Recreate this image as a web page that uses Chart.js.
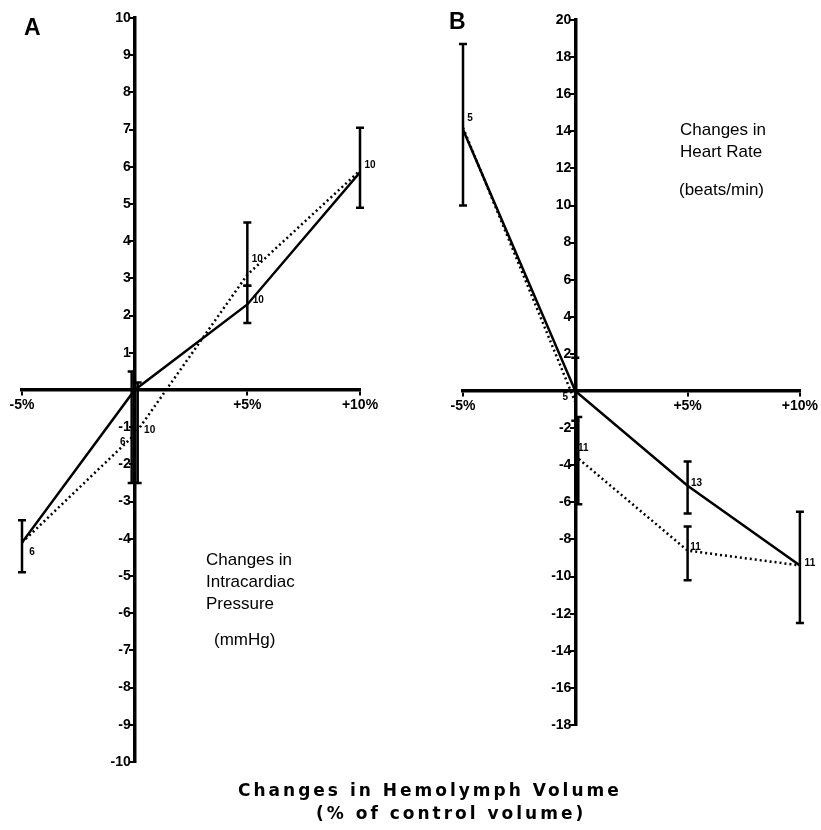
<!DOCTYPE html>
<html><head><meta charset="utf-8">
<script src="https://cdn.jsdelivr.net/npm/chart.js@4/dist/chart.umd.min.js"></script>
<style>
html,body{margin:0;padding:0;background:#fff;}
#wrap{position:relative;width:821px;height:830px;overflow:hidden;font-family:"Liberation Sans",Arial,sans-serif;color:#000;}
.cv{position:absolute;top:0;}
.t{position:absolute;white-space:nowrap;}
.lab{font-size:17px;line-height:22px;}
.ttl{font-family:"DejaVu Sans",sans-serif;font-weight:bold;font-size:17px;letter-spacing:3px;}
</style></head><body>
<div id="wrap">
<canvas id="ca" class="cv" style="left:0" width="410" height="830"></canvas>
<canvas id="cb" class="cv" style="left:410px" width="411" height="830"></canvas>
<div class="t" style="left:24px;top:14px;font-size:23px;font-weight:bold">A</div>
<div class="t" style="left:449px;top:8px;font-size:23px;font-weight:bold">B</div>
<div class="t lab" style="left:206px;top:549px">Changes in<br>Intracardiac<br>Pressure</div>
<div class="t lab" style="left:214px;top:629px">(mmHg)</div>
<div class="t lab" style="left:680px;top:119px">Changes in<br>Heart Rate</div>
<div class="t lab" style="left:679px;top:179px">(beats/min)</div>
<div class="t ttl" style="top:780px;left:238px">Changes in Hemolymph Volume</div>
<div class="t ttl" style="top:803px;left:316px">(% of control volume)</div>
</div>
<script>
// ---- data ----
const volX = [-5, 0, 5, 10];
const volTickLabels = ['-5%', '', '+5%', '+10%'];

// Panel A: changes in intracardiac pressure (mmHg)
const pressSolidX = [-5, 0, 5, 10];
const pressSolid = [-4.1, 0, 2.3, 5.85];
const pressSolidLo = [-4.9, -2.5, 1.8, 4.9];
const pressSolidHi = [-3.5, 0.5, 2.8, 7.05];
const pressSolidN = ['6', '6', '10', '10'];
const pressDottedX = [-5, 0, 5, 10];
const pressDotted = [-4.1, -1.2, 3.1, 5.9];
const pressDottedLo = [null, -2.5, 2.8, null];
const pressDottedHi = [null, 0.2, 4.5, null];
const pressDottedN = ['', '10', '10', ''];
const pressRange = [-10, 10];
const pressStep = 1;

// Panel B: changes in heart rate (beats/min)
const hrSolidX = [-5, 0, 5, 10];
const hrSolid = [14.1, 0, -5.1, -9.4];
const hrSolidLo = [10.0, -1.6, -6.6, -12.5];
const hrSolidHi = [18.7, 1.8, -3.8, -6.5];
const hrSolidN = ['5', '5', '13', '11'];
const hrDottedX = [-5, 0, 0, 5, 10];
const hrDotted = [14.2, -0.6, -3.5, -8.6, -9.4];
const hrDottedLo = [null, null, -6.1, -10.2, null];
const hrDottedHi = [null, null, -1.4, -7.3, null];
const hrDottedN = ['', '', '11', '11', ''];
const hrRange = [-18, 20];
const hrStep = 2;

// ---- helpers ----
const pts = (xs, ys) => xs.map((x, i) => ({x: x, y: ys[i]}));

function makeAnnot(series) {
  return {
    id: 'annot',
    afterDatasetsDraw(chart) {
      const ctx = chart.ctx, sx = chart.scales.x, sy = chart.scales.y;
      ctx.save();
      ctx.strokeStyle = '#000';
      ctx.fillStyle = '#000';
      ctx.lineWidth = 2.5;
      series.forEach(s => {
        s.x.forEach((xv, i) => {
          const lo = s.lo[i], hi = s.hi[i];
          const px = sx.getPixelForValue(xv) + (s.barDx[i] || 0);
          if (lo != null && hi != null) {
            const p1 = sy.getPixelForValue(lo), p2 = sy.getPixelForValue(hi);
            ctx.beginPath();
            ctx.moveTo(px, p1); ctx.lineTo(px, p2);
            ctx.moveTo(px - 4, p1); ctx.lineTo(px + 4, p1);
            ctx.moveTo(px - 4, p2); ctx.lineTo(px + 4, p2);
            ctx.stroke();
          }
          const t = s.n[i];
          if (t) {
            const o = s.nOff[i];
            ctx.font = 'bold 10px "Liberation Sans", Arial, sans-serif';
            ctx.textAlign = 'center';
            ctx.textBaseline = 'middle';
            ctx.fillText(t, sx.getPixelForValue(xv) + o[0], sy.getPixelForValue(s.y[i]) + o[1]);
          }
        });
      });
      ctx.restore();
    }
  };
}

const tickFont = {family: '"Liberation Sans", Arial, sans-serif', size: 14, weight: 'bold'};

function makeChart(id, cfg) {
  return new Chart(document.getElementById(id), {
    type: 'line',
    data: {
      datasets: [
        {data: pts(cfg.sX, cfg.sY), borderColor: '#000', borderWidth: 2.5, pointRadius: 0, tension: 0, fill: false},
        {data: pts(cfg.dX, cfg.dY), borderColor: '#000', borderWidth: 2.5, borderDash: [2, 3], pointRadius: 0, tension: 0, fill: false}
      ]
    },
    options: {
      responsive: false,
      animation: false,
      devicePixelRatio: 1,
      layout: {padding: cfg.pad},
      plugins: {legend: {display: false}, tooltip: {enabled: false}},
      scales: {
        x: {
          type: 'linear', min: volX[0], max: volX[volX.length - 1],
          position: {y: 0},
          border: {color: '#000', width: 3.5},
          grid: {drawOnChartArea: false, drawTicks: true, tickLength: 4, color: '#000', lineWidth: 2},
          ticks: {stepSize: 5, autoSkip: false, maxRotation: 0, color: '#000', font: tickFont, padding: 3,
            callback: v => { const k = volX.indexOf(v); return k >= 0 ? volTickLabels[k] : ''; }}
        },
        y: {
          type: 'linear', min: cfg.range[0], max: cfg.range[1],
          position: {x: 0},
          border: {color: '#000', width: 3.5},
          grid: {drawOnChartArea: false, drawTicks: true, tickLength: 4, color: '#000', lineWidth: 2},
          ticks: {stepSize: cfg.step, autoSkip: false, color: '#000', font: tickFont,
            callback: v => v === 0 ? '' : v + ' '}
        }
      }
    },
    plugins: [makeAnnot(cfg.series)]
  });
}

makeChart('ca', {
  sX: pressSolidX, sY: pressSolid, dX: pressDottedX, dY: pressDotted,
  range: pressRange, step: pressStep,
  pad: {left: 22, right: 50, top: 18, bottom: 68},
  series: [
    {x: pressSolidX, y: pressSolid, lo: pressSolidLo, hi: pressSolidHi, n: pressSolidN,
     barDx: [0, -3, 0, 0], nOff: [[10, 10], [-12, 52], [11, -4], [10, -7]]},
    {x: pressDottedX, y: pressDotted, lo: pressDottedLo, hi: pressDottedHi, n: pressDottedN,
     barDx: [0, 3, 0, 0], nOff: [[0, 0], [15, -4], [10, -15], [0, 0]]}
  ]
});

makeChart('cb', {
  sX: hrSolidX, sY: hrSolid, dX: hrDottedX, dY: hrDotted,
  range: hrRange, step: hrStep,
  pad: {left: 53, right: 19, top: 20, bottom: 105},
  series: [
    {x: hrSolidX, y: hrSolid, lo: hrSolidLo, hi: hrSolidHi, n: hrSolidN,
     barDx: [0, 0, 0, 0], nOff: [[7, -11], [-10, 6], [9, -2], [10, -2]]},
    {x: hrDottedX, y: hrDotted, lo: hrDottedLo, hi: hrDottedHi, n: hrDottedN,
     barDx: [0, 0, 3, 0, 0], nOff: [[0, 0], [0, 0], [8, -8], [8, -3], [0, 0]]}
  ]
});
</script>
</body></html>
